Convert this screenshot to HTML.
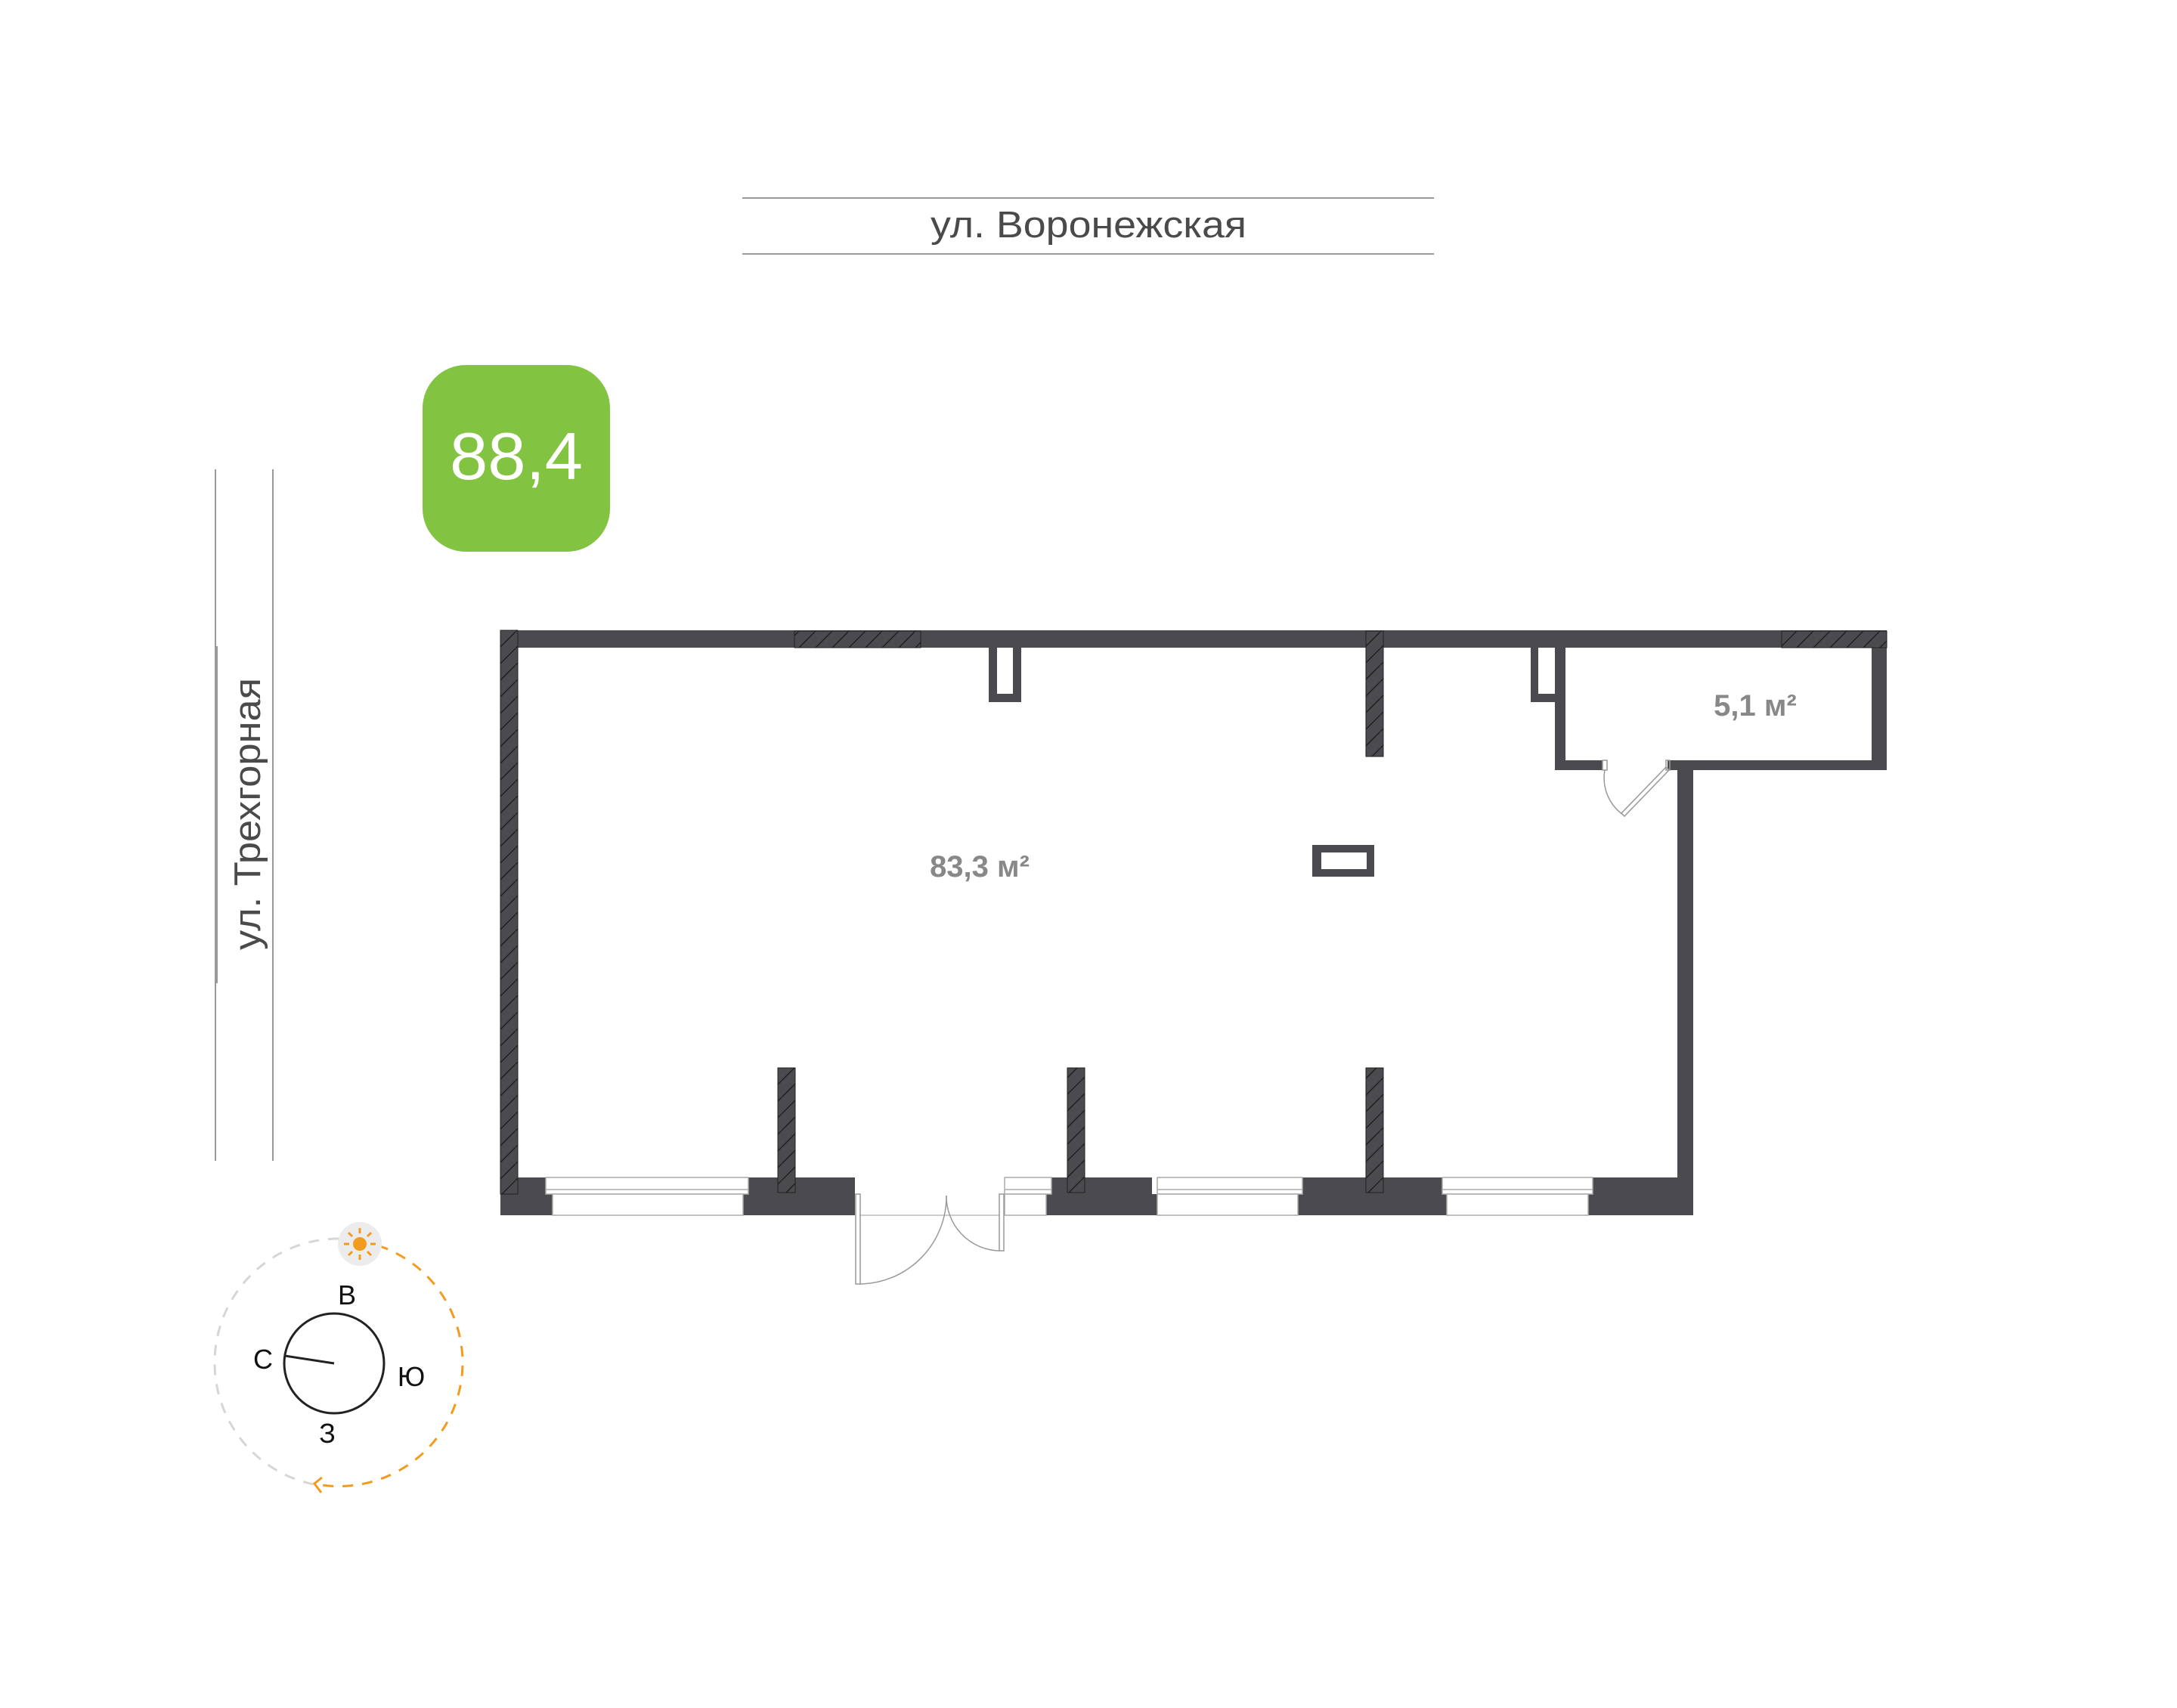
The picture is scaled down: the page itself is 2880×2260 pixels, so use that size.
<!DOCTYPE html>
<html><head><meta charset="utf-8"><style>
html,body{margin:0;padding:0;background:#fff;}
svg{display:block;}
</style></head><body>
<svg width="2880" height="2260" viewBox="0 0 2880 2260" xmlns="http://www.w3.org/2000/svg">
<defs>
<pattern id="h" patternUnits="userSpaceOnUse" width="22" height="22">
<rect width="22" height="22" fill="#4b4b4f"/>
<path d="M0 22 L22 0" stroke="#1a1a1c" stroke-width="1.3"/>
</pattern>
</defs>
<line x1="982" y1="262" x2="1897" y2="262" stroke="#999" stroke-width="2"/>
<line x1="982" y1="336" x2="1897" y2="336" stroke="#999" stroke-width="2"/>
<text x="1440" y="314" text-anchor="middle" font-family="Liberation Sans, sans-serif" font-size="49" fill="#4a4a4a" textLength="418" lengthAdjust="spacingAndGlyphs">ул. Воронежская</text>
<line x1="285" y1="621" x2="285" y2="1536" stroke="#999" stroke-width="2"/>
<line x1="287" y1="855" x2="287" y2="1301" stroke="#999" stroke-width="2"/>
<line x1="361" y1="621" x2="361" y2="1536" stroke="#999" stroke-width="2"/>
<text transform="translate(344,1077) rotate(-90)" text-anchor="middle" font-family="Liberation Sans, sans-serif" font-size="49" fill="#4a4a4a" textLength="360" lengthAdjust="spacingAndGlyphs">ул. Трехгорная</text>
<rect x="559" y="483" width="248" height="247" rx="57" fill="#82c341"/>
<text x="683" y="634" text-anchor="middle" font-family="Liberation Sans, sans-serif" font-size="88" fill="#fff" textLength="176" lengthAdjust="spacingAndGlyphs">88,4</text>

<g fill="#4b4b4f">
<rect x="662" y="834" width="1834" height="23"/>
<rect x="2476" y="834" width="20" height="185"/>
<rect x="2206" y="1006" width="290" height="13"/>
<rect x="2057" y="1006" width="63" height="13"/>
<rect x="2057" y="857" width="14" height="162"/>
<rect x="2219" y="1006" width="21" height="602"/>
<path d="M1308 857h43v72h-43z M1319 857v61h21v-61z" fill-rule="evenodd"/>
<path d="M2025 857h32v72h-32z M2035 857v61h22v-61z" fill-rule="evenodd"/>
<path d="M1736 1118h82v42h-82z M1748 1128v22h60v-22z" fill-rule="evenodd"/>
<rect x="662" y="1558" width="60" height="22"/><rect x="662" y="1580" width="69" height="28"/>
<rect x="990" y="1558" width="141" height="22"/><rect x="983" y="1580" width="148" height="28"/>
<rect x="1391" y="1558" width="133" height="22"/><rect x="1384" y="1580" width="147" height="28"/>
<rect x="1723" y="1558" width="185" height="22"/><rect x="1717" y="1580" width="197" height="28"/>
<rect x="2107" y="1558" width="133" height="22"/><rect x="2101" y="1580" width="139" height="28"/>
</g>
<g fill="url(#h)" stroke="#222" stroke-width="1">
<rect x="662" y="834" width="23" height="746"/>
<rect x="1051" y="835" width="167" height="22"/>
<rect x="2357" y="835" width="139" height="22"/>
<rect x="1807" y="835" width="23" height="166"/>
<rect x="1029" y="1413" width="23" height="165"/>
<rect x="1412" y="1413" width="23" height="165"/>
<rect x="1807" y="1413" width="23" height="165"/>
</g>
<g fill="#fff" stroke="#aaa" stroke-width="1.5">
<rect x="722" y="1558" width="268" height="22"/><line x1="722" y1="1574" x2="990" y2="1574"/><rect x="731" y="1580" width="252" height="28"/>
<rect x="1531" y="1558" width="192" height="22"/><line x1="1531" y1="1574" x2="1723" y2="1574"/><rect x="1531" y="1580" width="186" height="28"/>
<rect x="1908" y="1558" width="199" height="22"/><line x1="1908" y1="1574" x2="2107" y2="1574"/><rect x="1914" y="1580" width="187" height="28"/>
<rect x="1329" y="1558" width="62" height="22"/><line x1="1329" y1="1574" x2="1391" y2="1574"/><rect x="1329" y="1580" width="55" height="28"/>
</g>
<g fill="none" stroke="#999" stroke-width="1.5">
<line x1="1137" y1="1608" x2="1322" y2="1608" stroke="#bbb"/>
<rect x="1132" y="1580" width="6" height="119"/>
<rect x="1322" y="1580" width="6" height="75"/>
<path d="M1137 1699 A116 116 0 0 0 1252 1582"/>
<path d="M1322 1655 A72 72 0 0 1 1252 1582"/>
<rect x="2120" y="1006" width="6" height="13"/>
<rect x="2204" y="1006" width="5" height="13"/>
<path d="M2123 1019 A60 60 0 0 0 2147 1078"/>
<path d="M2145 1076 L2204 1015 L2208 1019 L2149 1080 Z"/>
</g>
<text x="1296" y="1160" text-anchor="middle" font-family="Liberation Sans, sans-serif" font-weight="bold" font-size="40" fill="#888">83,3 м²</text>
<text x="2322" y="947" text-anchor="middle" font-family="Liberation Sans, sans-serif" font-weight="bold" font-size="40" fill="#888">5,1 м²</text>

<path d="M448 1639 A164 164 0 0 0 284 1803 A164 164 0 0 0 420 1965" fill="none" stroke="#d6d6d6" stroke-width="3" stroke-dasharray="14 12"/>
<path d="M500 1648 A164 164 0 0 1 612 1803 A164 164 0 0 1 425 1965" fill="none" stroke="#f29c1f" stroke-width="3" stroke-dasharray="14 12"/>
<path d="M426 1955 L416 1963 L425 1975" fill="none" stroke="#f29c1f" stroke-width="3"/>
<circle cx="476" cy="1646" r="29" fill="#ececec"/>
<circle cx="476" cy="1646" r="9" fill="#f29c1f"/>
<g stroke="#f29c1f" stroke-width="3">
<line x1="476" y1="1632" x2="476" y2="1625"/><line x1="476" y1="1660" x2="476" y2="1667"/>
<line x1="462" y1="1646" x2="455" y2="1646"/><line x1="490" y1="1646" x2="497" y2="1646"/>
<line x1="466" y1="1636" x2="461" y2="1631"/><line x1="486" y1="1656" x2="491" y2="1661"/>
<line x1="486" y1="1636" x2="491" y2="1631"/><line x1="466" y1="1656" x2="461" y2="1661"/>
</g>
<circle cx="442" cy="1804" r="66" fill="none" stroke="#222" stroke-width="3"/>
<line x1="442" y1="1804" x2="377" y2="1794" stroke="#222" stroke-width="3"/>
<g font-family="Liberation Sans, sans-serif" font-size="36" fill="#111" text-anchor="middle">
<text x="459" y="1726">В</text>
<text x="348" y="1811">С</text>
<text x="544" y="1834">Ю</text>
<text x="433" y="1909">З</text>
</g>
</svg>
</body></html>
